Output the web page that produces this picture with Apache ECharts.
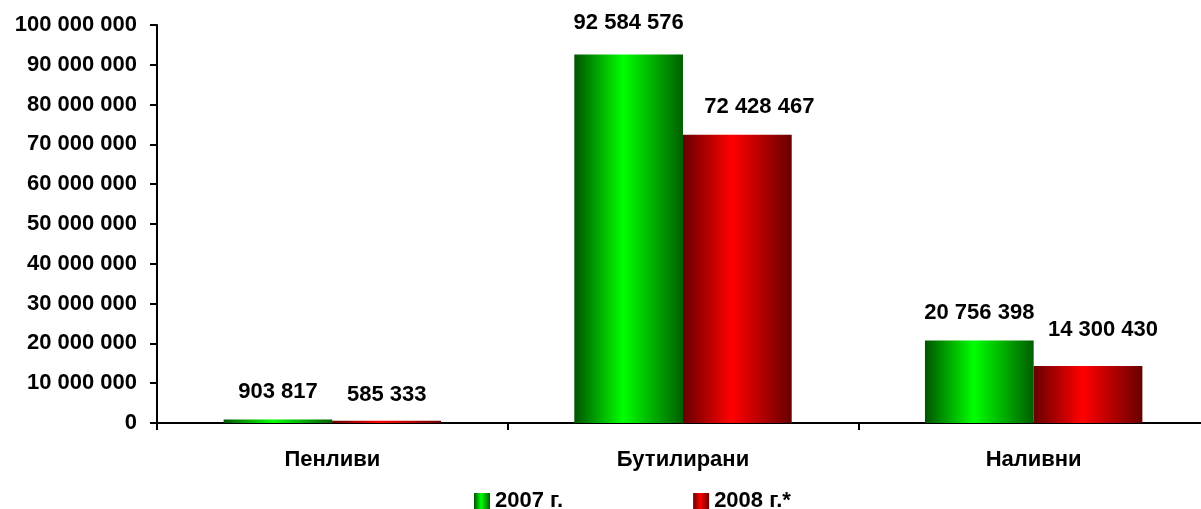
<!DOCTYPE html>
<html>
<head>
<meta charset="utf-8">
<script src="https://cdn.jsdelivr.net/npm/echarts@6/dist/echarts.min.js"></script>
<style>
  html, body { margin: 0; padding: 0; background: #fff; }
  #main { width: 1201px; height: 509px; }
</style>
</head>
<body>
<div id="main"></div>
<script>
const categories = ['Пенливи', 'Бутилирани', 'Наливни']
const seriesNames = ['2007 г.', '2008 г.*']
const values2007 = [903817, 92584576, 20756398]
const values2008 = [585333, 72428467, 14300430]
const yTicks = { min: 0, max: 100000000, interval: 10000000 }

const FONT = '"Liberation Sans", Arial, sans-serif'

function fmt(v) {
    return String(v).replace(/\B(?=(\d{3})+(?!\d))/g, ' ')
}

function grad(dark, bright, darkR) {
    return new echarts.graphic.LinearGradient(0, 0, 1, 0, [
        { offset: 0, color: dark },
        { offset: 0.45, color: bright },
        { offset: 1, color: darkR }
    ])
}

const colors = [
    grad('#005400', '#00ff00', '#005e00'),
    grad('#680000', '#ff0000', '#680000')
]

// label placement like in the original (Excel moved some labels)
const labelDist = [[16, 21, 16], [15, 17, 25]]
const labelShift = [[0, 0, 0], [0, 22, 15]]

const myChart = echarts.init(document.getElementById('main'))

const series = [values2007, values2008].map(function (data, i) {
    return {
        name: seriesNames[i],
        type: 'bar',
        barGap: '0%',
        barCategoryGap: '38%',
        itemStyle: { color: colors[i] },
        label: {
            show: true,
            position: 'top',
            distance: 18,
            color: '#000',
            fontWeight: 'bold',
            fontSize: 22,
            fontFamily: FONT,
            formatter: function (p) { return fmt(p.value) }
        },
        data: data.map(function (v, j) {
            return {
                value: v,
                label: { distance: labelDist[i][j], offset: [labelShift[i][j], 0] }
            }
        })
    }
})

const option = {
    animation: false,
    grid: { left: 157, top: 25, width: 1052, bottom: 86, containLabel: false, outerBoundsMode: 'none' },
    legend: {
        data: seriesNames,
        icon: 'rect',
        left: 469,
        top: 485,
        itemWidth: 16,
        itemHeight: 16,
        itemGap: 130,
        itemStyle: { borderWidth: 0 },
        textStyle: { color: '#000', fontWeight: 'bold', fontSize: 22, fontFamily: FONT }
    },
    xAxis: {
        type: 'category',
        data: categories,
        axisLine: { lineStyle: { color: '#000', width: 2 } },
        axisTick: { show: true, length: 7, lineStyle: { color: '#000', width: 2 } },
        axisLabel: { margin: 26, color: '#000', fontWeight: 'bold', fontSize: 22, fontFamily: FONT }
    },
    yAxis: {
        type: 'value',
        min: yTicks.min,
        max: yTicks.max,
        interval: yTicks.interval,
        splitLine: { show: false },
        axisLine: { show: true, lineStyle: { color: '#000', width: 2 } },
        axisTick: { show: true, length: 7, lineStyle: { color: '#000', width: 2 } },
        axisLabel: {
            margin: 20,
            color: '#000',
            fontWeight: 'bold',
            fontSize: 22,
            fontFamily: FONT,
            formatter: function (v) { return fmt(v) }
        }
    },
    series: series
}

myChart.setOption(option)

window.addEventListener('resize', function () {
    myChart.resize()
})
</script>
</body>
</html>
